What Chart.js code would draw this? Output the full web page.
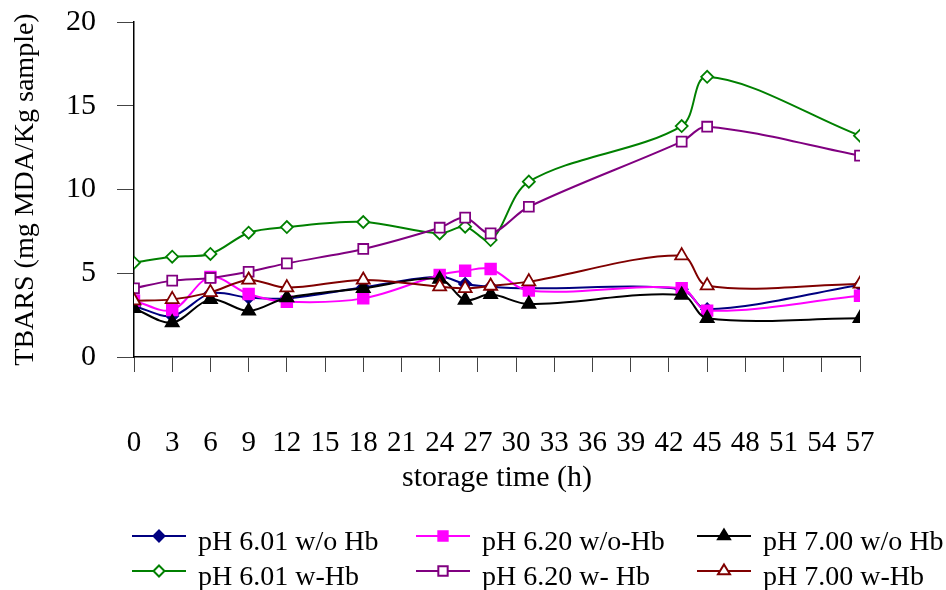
<!DOCTYPE html>
<html><head><meta charset="utf-8">
<script src="https://cdn.jsdelivr.net/npm/chart.js@4.4.1/dist/chart.umd.min.js"></script>
<style>html,body{margin:0;padding:0;background:#fff}#wrap{width:946px;height:590px}</style>
</head><body><div id="wrap"><canvas id="c" width="946" height="590"></canvas></div>
<script>
const times = [0, 3, 6, 9, 12, 18, 24, 26, 28, 31, 43, 45, 57];
const xTickValues = [0, 3, 6, 9, 12, 15, 18, 21, 24, 27, 30, 33, 36, 39, 42, 45, 48, 51, 54, 57];
const yTickValues = [0, 5, 10, 15, 20];

const ph601_woHb = [3.05, 2.45, 3.8, 3.55, 3.5, 4.16, 4.8, 4.36, 4.2, 4.1, 4.05, 2.85, 4.3];
const ph620_woHb = [3.36, 2.8, 4.78, 3.76, 3.3, 3.5, 4.9, 5.15, 5.25, 3.96, 4.1, 2.77, 3.66];
const ph700_woHb = [2.9, 2.05, 3.44, 2.75, 3.54, 4.1, 4.65, 3.4, 3.74, 3.16, 3.7, 2.31, 2.31];
const ph601_wHb = [5.63, 5.99, 6.15, 7.42, 7.76, 8.06, 7.38, 7.78, 6.98, 10.47, 13.79, 16.73, 13.21];
const ph620_wHb = [4.1, 4.56, 4.72, 5.09, 5.59, 6.45, 7.72, 8.32, 7.38, 8.97, 12.86, 13.75, 12.02];
const ph700_wHb = [3.36, 3.44, 3.86, 4.6, 4.14, 4.6, 4.2, 4.1, 4.24, 4.5, 6.05, 4.26, 4.36];

const seriesLabels = ['pH 6.01 w/o Hb', 'pH 6.20 w/o-Hb', 'pH 7.00 w/o Hb', 'pH 6.01 w-Hb', 'pH 6.20 w- Hb', 'pH 7.00 w-Hb'];
const seriesValues = [ph601_woHb, ph620_woHb, ph700_woHb, ph601_wHb, ph620_wHb, ph700_wHb];
const seriesColors = ['#000080', '#FF00FF', '#000000', '#008000', '#800080', '#800000'];
const seriesFill = ['#000080', '#FF00FF', '#000000', '#FFFFFF', '#FFFFFF', '#FFFFFF'];
const seriesMarkers = ['rectRot', 'rect', 'triangle', 'rectRot', 'rect', 'triangle'];
const seriesRadius = [6, 7.5, 7.5, 6, 7, 7.5];

const FONT = 'Liberation Serif';

const datasets = seriesLabels.map((lab, i) => ({
  label: lab,
  data: times.map((t, j) => ({x: t, y: seriesValues[i][j]})),
  borderColor: seriesColors[i],
  backgroundColor: seriesFill[i],
  pointBorderColor: seriesColors[i],
  pointBackgroundColor: seriesFill[i],
  pointStyle: seriesMarkers[i],
  pointRadius: seriesRadius[i],
  pointBorderWidth: 1.8,
  borderWidth: 2,
  tension: 0.33,
  fill: false,
  order: 6 - i
}));

const legendPlugin = {
  id: 'customLegend',
  afterDraw(chart) {
    const ctx = chart.ctx;
    const colX = [132, 416, 697];
    const rowY = [536, 571];
    const baseY = [550, 585];
    ctx.save();
    chart.data.datasets.forEach((ds, i) => {
      const col = i % 3, row = Math.floor(i / 3);
      const x0 = colX[col], y = rowY[row];
      ctx.strokeStyle = ds.borderColor;
      ctx.lineWidth = 2;
      ctx.beginPath(); ctx.moveTo(x0, y); ctx.lineTo(x0 + 54, y); ctx.stroke();
      const cx = x0 + 27, r = 5.5;
      ctx.fillStyle = ds.pointBackgroundColor;
      ctx.beginPath();
      if (ds.pointStyle === 'rectRot') {
        ctx.moveTo(cx, y - r); ctx.lineTo(cx + r, y); ctx.lineTo(cx, y + r); ctx.lineTo(cx - r, y); ctx.closePath();
      } else if (ds.pointStyle === 'rect') {
        const s = r * 0.85; ctx.rect(cx - s, y - s, 2 * s, 2 * s);
      } else {
        ctx.moveTo(cx, y - r - 1); ctx.lineTo(cx + r + 0.5, y + r * 0.6); ctx.lineTo(cx - r - 0.5, y + r * 0.6); ctx.closePath();
      }
      ctx.fill(); ctx.stroke();
      ctx.fillStyle = '#000';
      ctx.font = '28px "' + FONT + '"';
      ctx.textBaseline = 'alphabetic';
      ctx.textAlign = 'left';
      ctx.fillText(ds.label, x0 + 66, baseY[row]);
    });
    ctx.restore();
  }
};

new Chart(document.getElementById('c'), {
  type: 'line',
  data: {datasets},
  plugins: [legendPlugin],
  options: {
    responsive: false,
    animation: false,
    devicePixelRatio: 1,
    layout: {padding: {left: 0, top: 22, right: 86, bottom: 94}},
    plugins: {legend: {display: false}, tooltip: {enabled: false}},
    scales: {
      x: {
        type: 'linear', min: 0, max: 57,
        afterBuildTicks: (s) => { s.ticks = xTickValues.map(v => ({value: v})); },
        afterFit: (s) => { s.height = 139; s.paddingLeft = 0; s.paddingRight = 0; },
        ticks: {autoSkip: false, maxRotation: 0, minRotation: 0, color: '#000', padding: 54,
                font: {family: FONT, size: 29}},
        grid: {drawOnChartArea: false, drawTicks: true, tickLength: 15, color: '#444', tickWidth: 1},
        border: {color: '#000', width: 1.5},
        title: {display: true, text: 'storage time (h)', color: '#000', font: {family: FONT, size: 30},
                padding: {top: 0, bottom: 0}}
      },
      y: {
        min: 0, max: 20,
        afterBuildTicks: (s) => { s.ticks = yTickValues.map(v => ({value: v})); },
        afterFit: (s) => { s.width = 134; s.paddingTop = 0; s.paddingBottom = 0; },
        ticks: {color: '#000', padding: 21, font: {family: FONT, size: 30}},
        grid: {drawOnChartArea: false, drawTicks: true, tickLength: 17, color: '#444', tickWidth: 1},
        border: {color: '#000', width: 1.5},
        title: {display: true, text: 'TBARS (mg MDA/Kg sample)', color: '#000', font: {family: FONT, size: 28},
                padding: {top: 9, bottom: 0}}
      }
    }
  }
});
</script></body></html>
